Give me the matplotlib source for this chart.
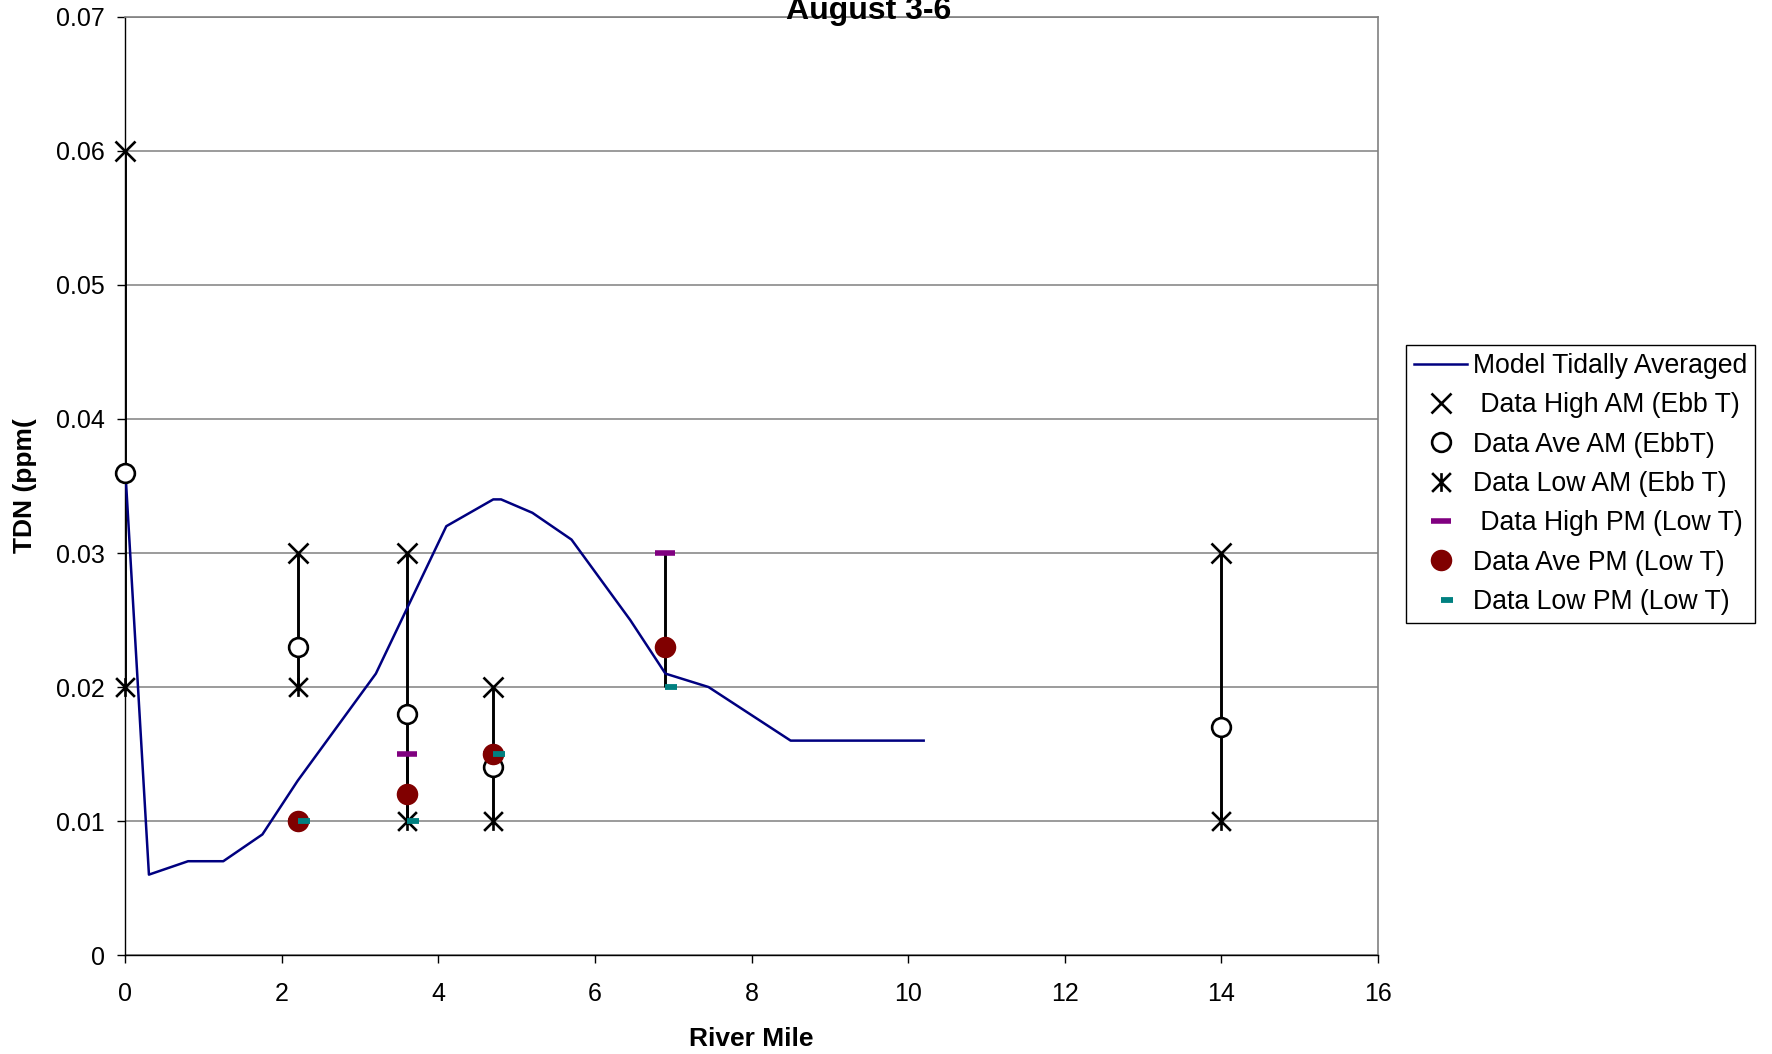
import matplotlib
matplotlib.use("Agg")
import matplotlib.pyplot as plt
from matplotlib.path import Path
import numpy as np

plt.rcParams['font.family'] = ['Liberation Sans', 'DejaVu Sans']

# ---- data ----
model_x = [0, 0.3, 0.8, 1.25, 1.75, 2.2, 3.2, 4.1, 4.7, 4.8, 5.2, 5.7, 6.45, 6.9, 7.45, 8.5, 10.2]
model_y = [0.036, 0.006, 0.007, 0.007, 0.009, 0.013, 0.021, 0.032, 0.034, 0.034,
           0.033, 0.031, 0.025, 0.021, 0.020, 0.016, 0.016]

am_x = [0, 2.2, 3.6, 4.7, 14]
am_high = [0.06, 0.03, 0.03, 0.02, 0.03]
am_ave = [0.036, 0.023, 0.018, 0.014, 0.017]
am_low = [0.02, 0.02, 0.01, 0.01, 0.01]

pm_x = [2.2, 3.6, 4.7, 6.9]
pm_high = [0.01, 0.015, 0.015, 0.03]
pm_ave = [0.01, 0.012, 0.015, 0.023]
pm_low = [0.01, 0.01, 0.015, 0.02]

labels = ["Model Tidally Averaged", " Data High AM (Ebb T)", "Data Ave AM (EbbT)",
          "Data Low AM (Ebb T)", " Data High PM (Low T)", "Data Ave PM (Low T)",
          "Data Low PM (Low T)"]
xticks = [0, 2, 4, 6, 8, 10, 12, 14, 16]
yticks = [0, 0.01, 0.02, 0.03, 0.04, 0.05, 0.06, 0.07]
ytick_labels = ["0", "0.01", "0.02", "0.03", "0.04", "0.05", "0.06", "0.07"]

# ---- custom markers ----
star_path = Path([(-1, -1), (1, 1), (-1, 1), (1, -1), (0, -1), (0, 1)],
                 [Path.MOVETO, Path.LINETO, Path.MOVETO, Path.LINETO, Path.MOVETO, Path.LINETO])
half_dash = Path([(0, 0), (1, 0)], [Path.MOVETO, Path.LINETO])

fig = plt.figure(figsize=(17.72, 10.54), dpi=100)
ax = fig.add_axes([0.0708, 0.0939, 0.7066, 0.8900])

ax.set_xlim(0, 16)
ax.set_ylim(0, 0.07)
ax.set_axisbelow(True)
ax.yaxis.grid(True, color='#808080', lw=1.1)

# high-low lines
ax.vlines(am_x, am_low, am_high, colors='black', lw=2.1, zorder=2)
ax.vlines(pm_x, pm_low, pm_high, colors='black', lw=2.1, zorder=2)

h_model, = ax.plot(model_x, model_y, color='#000080', lw=1.8, zorder=3, label=labels[0])
h1, = ax.plot(am_x, am_high, ls='none', marker='x', ms=14, mew=1.9, color='black',
              zorder=4, clip_on=False, label=labels[1])
h2, = ax.plot(am_x, am_ave, ls='none', marker='o', ms=13.5, mew=1.9, mfc='white', mec='black',
              zorder=4, clip_on=False, label=labels[2])
h3, = ax.plot(am_x, am_low, ls='none', marker=star_path, ms=13.5, mew=1.9, color='black',
              zorder=4, clip_on=False, label=labels[3])
h4, = ax.plot(pm_x, pm_high, ls='none', marker='_', ms=15, mew=4, color='#800080',
              zorder=4, clip_on=False, label=labels[4])
h5, = ax.plot(pm_x, pm_ave, ls='none', marker='o', ms=15.5, mew=0, color='#800000',
              zorder=5, clip_on=False, label=labels[5])
h6, = ax.plot(pm_x, pm_low, ls='none', marker=half_dash, ms=17, mew=4.2, color='#008080',
              zorder=6, clip_on=False, label=labels[6])

ax.set_xticks(xticks)
ax.set_xticklabels([str(t) for t in xticks])
ax.set_yticks(yticks)
ax.set_yticklabels(ytick_labels)
ax.tick_params(axis='both', direction='out', length=6, width=1, color='black', labelsize=18)
ax.tick_params(axis='x', pad=13.5)
ax.tick_params(axis='y', pad=9)

for s in ['top', 'right']:
    ax.spines[s].set_color('#808080')
    ax.spines[s].set_linewidth(1.2)
for s in ['left', 'bottom']:
    ax.spines[s].set_color('black')
    ax.spines[s].set_linewidth(1.0)

ax.set_xlabel("River Mile", fontsize=19, fontweight='bold')
ax.set_ylabel("TDN (ppm(", fontsize=19, fontweight='bold')
ax.xaxis.set_label_coords(0.5, -0.0895)
ax.xaxis.label.set_va('center')
ax.yaxis.set_label_coords(-0.0803, 0.5)
ax.yaxis.label.set_va('center')

fig.text(0.4904, 0.9817, "August 3-6", ha='center', va='baseline', fontsize=23, fontweight='bold')

leg = fig.legend(handles=[h_model, h1, h2, h3, h4, h5, h6], loc='upper left',
                 bbox_to_anchor=(0.7935, 0.6727), bbox_transform=fig.transFigure,
                 fontsize=19.2, frameon=True, fancybox=False, shadow=False,
                 handlelength=2.0, handletextpad=0.2, labelspacing=0.5,
                 borderpad=0.3, borderaxespad=0, numpoints=1)
leg.get_frame().set_edgecolor('black')
leg.get_frame().set_linewidth(1.0)
leg.get_frame().set_alpha(1)

fig.savefig("out.png", dpi=100)
